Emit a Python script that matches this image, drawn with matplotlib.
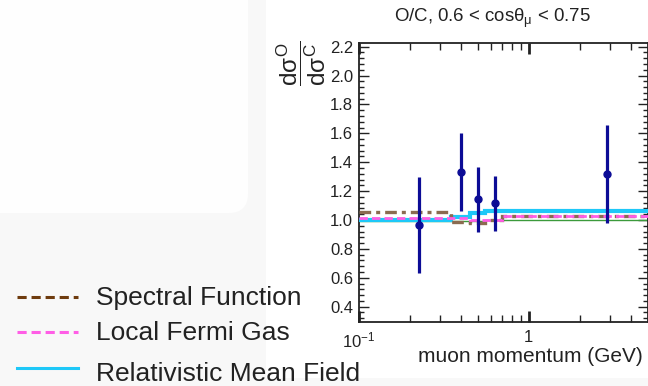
import matplotlib
matplotlib.use('Agg')
import matplotlib.pyplot as plt
from matplotlib.patches import Rectangle, FancyBboxPatch
from matplotlib.lines import Line2D
from matplotlib.ticker import FixedLocator, NullFormatter
import numpy as np

plt.rcParams['font.family'] = ['Liberation Sans', 'DejaVu Sans']
plt.rcParams['mathtext.fontset'] = 'custom'
plt.rcParams['mathtext.rm'] = 'Liberation Sans'
plt.rcParams['mathtext.it'] = 'Liberation Sans'

# bin edges of the model histograms (GeV)
edges = [0.1, 0.35, 0.45, 0.55, 0.7, 5.0]
rmf = [1.0, 1.02, 1.045, 1.065, 1.065]      # Relativistic Mean Field
lfg = [1.015, 1.015, 1.0, 1.0, 1.027]       # Local Fermi Gas
sf = [1.055, 0.987, 0.977, 1.0, 1.03]       # Spectral Function
other = [0.996, 0.996, 0.996, 1.0, 1.0]     # thin green model

# data points
px = [0.226, 0.40, 0.50, 0.63, 2.87]
py = [0.965, 1.334, 1.143, 1.115, 1.32]
perr = [0.335, 0.27, 0.225, 0.19, 0.34]

yticks = [0.4, 0.6, 0.8, 1.0, 1.2, 1.4, 1.6, 1.8, 2.0, 2.2]

W, H = 648, 386
fig = plt.figure(figsize=(W / 100, H / 100), dpi=100)
fig.patch.set_facecolor('white')

# grey side panel + white rounded box + bottom strip
fig.add_artist(Rectangle((0, 0), 265.7 / W, 1, transform=fig.transFigure,
                         facecolor='#f8f8f8', edgecolor='none', zorder=0))
fig.add_artist(Rectangle((0, 0), 1, 8 / H, transform=fig.transFigure,
                         facecolor='#f8f8f8', edgecolor='none', zorder=0))
fig.add_artist(FancyBboxPatch((-20 / W, 1 - 213 / H), 268 / W, 240 / H,
                              boxstyle='round,pad=0,rounding_size=0.03',
                              transform=fig.transFigure, mutation_aspect=W / H,
                              facecolor='#fefefe', edgecolor='none', zorder=0))

ax = fig.add_axes([358.7 / W, 1 - 321.7 / H, (647.5 - 358.7) / W, (321.7 - 43) / H])
ax.set_xscale('log')
ax.set_xlim(0.1, 5.0)
ax.set_ylim(0.296, 2.225)

ax.stairs(other, edges, baseline=None, color='#3c9a3c', lw=1.0, zorder=2)
ax.stairs(rmf, edges, baseline=None, color='#1ec8f8', lw=3.0, zorder=3)
ax.stairs(sf, edges, baseline=None, color='#8b6b50', lw=2.4,
          ls=(0, (3.5, 1.5, 1.2, 1.5)), zorder=4)
ax.stairs(lfg, edges, baseline=None, color='#ff5ee6', lw=2.0, ls=(0, (3, 1.5)), zorder=5)
ax.errorbar(px, py, yerr=perr, fmt='o', color='#0c0c96', ms=5, elinewidth=2.3,
            capsize=0, zorder=6)

for s in ax.spines.values():
    s.set_linewidth(1.3)
    s.set_color('#222222')

ax.set_yticks(yticks)
ax.set_yticklabels([f'{v:.1f}' for v in yticks])
ax.yaxis.set_minor_locator(FixedLocator(np.arange(0.32, 2.23, 0.04)))
ax.xaxis.set_major_locator(FixedLocator([0.1, 1.0]))
ax.set_xticklabels(['$10^{-1}$', '1'])
ax.xaxis.set_minor_locator(FixedLocator([0.2, 0.3, 0.4, 0.5, 0.6, 0.7, 0.8, 0.9, 2, 3, 4]))
ax.xaxis.set_minor_formatter(NullFormatter())
ax.tick_params(which='both', direction='in', top=True, right=True, colors='#222222')
ax.tick_params(axis='y', which='major', length=7, width=1, labelsize=12, pad=4)
ax.tick_params(axis='y', which='minor', length=3.5, width=1)
ax.tick_params(axis='x', which='major', length=8, width=2, labelsize=12, pad=6)
ax.tick_params(axis='x', which='minor', length=5, width=1)

fig.text(492 / W, 1 - 18 / H, r'O/C, 0.6 < cos$\theta_{\mu}$ < 0.75',
         ha='center', va='center', fontsize=13.4, color='#222222')
fig.text(643 / W, 1 - 357 / H, 'muon momentum (GeV)', ha='right', va='center',
         fontsize=15, color='#222222')
fig.text(301 / W, 1 - 63 / H, r'$\dfrac{d\sigma^{O}}{d\sigma^{C}}$', rotation=90,
         ha='center', va='center', fontsize=17.5, color='#222222')

# legend drawn in the side panel
leg = [('Spectral Function', '#6e3b0e', (0, (3, 1.6)), 297),
       ('Local Fermi Gas', '#ff5ee6', (0, (3, 1.6)), 332),
       ('Relativistic Mean Field', '#1ec8f8', '-', 368)]
for name, col, ls, yy in leg:
    fig.add_artist(Line2D([17 / W, 78 / W], [1 - yy / H, 1 - yy / H], color=col,
                          lw=2.2, ls=ls, transform=fig.transFigure))
    fig.text(96 / W, 1 - (yy + 1 if yy < 360 else yy + 6) / H, name, ha='left',
             va='center', fontsize=19, color='#222222')

fig.savefig('out.png', dpi=100)
